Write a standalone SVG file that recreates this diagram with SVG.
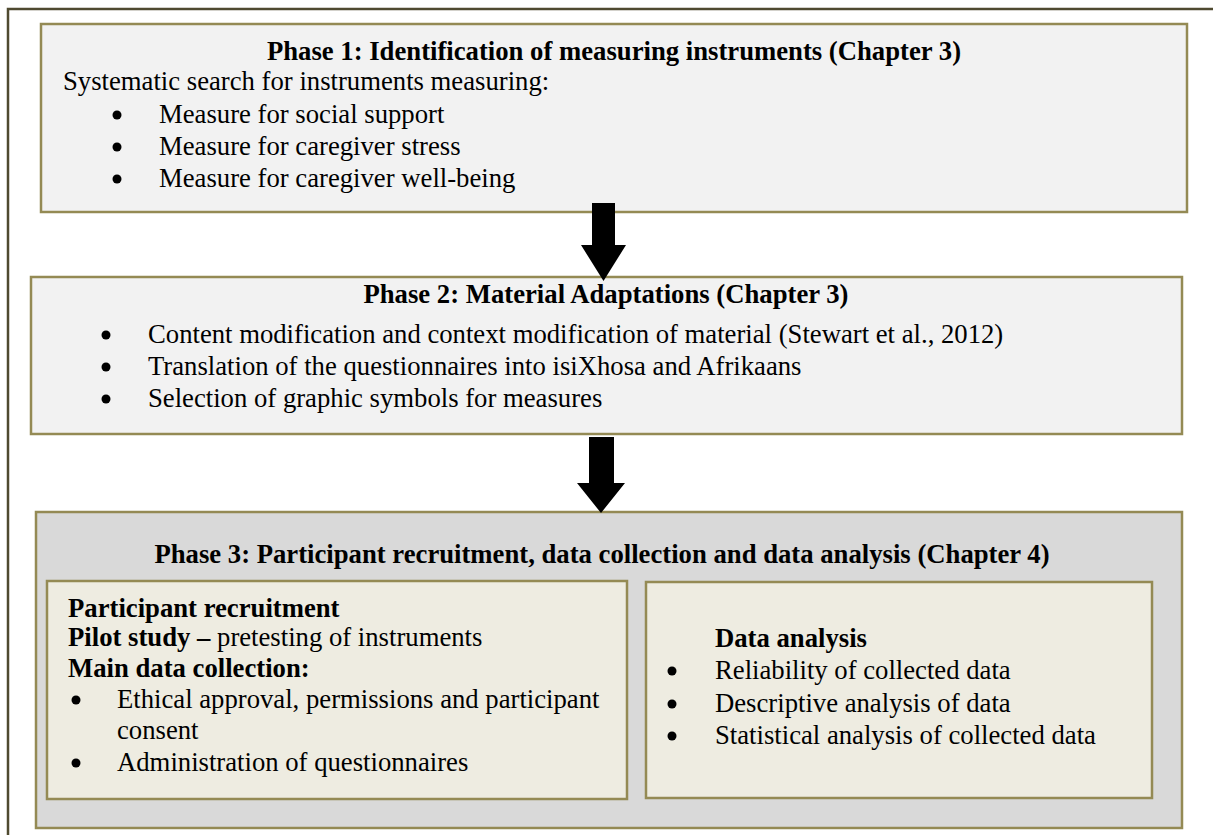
<svg xmlns="http://www.w3.org/2000/svg" width="1213" height="835" viewBox="0 0 1213 835">
<style>
  text { font-family: "Liberation Serif", "Times New Roman", serif; font-size: 26.7px; fill: #000; }
  .b { font-weight: bold; }
  .box { stroke: #948a54; stroke-width: 2.5; }
  .p12 { fill: #f2f2f2; }
  .p3 { fill: #d9d9d9; }
  .inner { fill: #eeece1; }
  .dot { fill: #000; }
  .arrow { fill: #000; }
</style>
<rect x="0" y="0" width="1213" height="835" fill="#fff"/>
<rect id="frame" x="8" y="9" width="1220" height="840" fill="none" stroke="#4f4a30" stroke-width="2.5"/>

<g id="phase1">
  <rect class="box p12" x="41" y="24" width="1146" height="188"/>
  <text class="b" x="614" y="60" text-anchor="middle">Phase 1: Identification of measuring instruments (Chapter 3)</text>
  <text x="63" y="90">Systematic search for instruments measuring:</text>
  <circle class="dot" cx="117" cy="115" r="4.5"/>
  <text x="159" y="123">Measure for social support</text>
  <circle class="dot" cx="117" cy="147" r="4.5"/>
  <text x="159" y="155">Measure for caregiver stress</text>
  <circle class="dot" cx="117" cy="179" r="4.5"/>
  <text x="159" y="187">Measure for caregiver well-being</text>
</g>

<g id="phase2">
  <rect class="box p12" x="31" y="277" width="1151" height="157"/>
  <text class="b" x="606" y="303" text-anchor="middle">Phase 2: Material Adaptations (Chapter 3)</text>
  <circle class="dot" cx="106" cy="335" r="4.5"/>
  <text x="148" y="343">Content modification and context modification of material (Stewart et al., 2012)</text>
  <circle class="dot" cx="106" cy="367" r="4.5"/>
  <text x="148" y="375">Translation of the questionnaires into isiXhosa and Afrikaans</text>
  <circle class="dot" cx="106" cy="399" r="4.5"/>
  <text x="148" y="407">Selection of graphic symbols for measures</text>
</g>

<g id="phase3">
  <rect class="box p3" x="36" y="512" width="1146" height="316"/>
  <text class="b" x="602" y="563" text-anchor="middle">Phase 3: Participant recruitment, data collection and data analysis (Chapter 4)</text>
</g>

<g id="recruitment">
  <rect class="box inner" x="47" y="581" width="580" height="218"/>
  <text class="b" x="68" y="617">Participant recruitment</text>
  <text x="68" y="646"><tspan class="b">Pilot study –</tspan> pretesting of instruments</text>
  <text class="b" x="68" y="677">Main data collection:</text>
  <circle class="dot" cx="76" cy="700" r="4.5"/>
  <text x="117" y="708">Ethical approval, permissions and participant</text>
  <text x="117" y="739">consent</text>
  <circle class="dot" cx="76" cy="763" r="4.5"/>
  <text x="117" y="771">Administration of questionnaires</text>
</g>

<g id="analysis">
  <rect class="box inner" x="646" y="582" width="506" height="216"/>
  <text class="b" x="715" y="647">Data analysis</text>
  <circle class="dot" cx="672" cy="671" r="4.5"/>
  <text x="715" y="679">Reliability of collected data</text>
  <circle class="dot" cx="672" cy="704" r="4.5"/>
  <text x="715" y="712">Descriptive analysis of data</text>
  <circle class="dot" cx="672" cy="736" r="4.5"/>
  <text x="715" y="744">Statistical analysis of collected data</text>
</g>

<g id="connectors">
  <polygon class="arrow" points="592,203 615,203 615,245 626,245 603.5,281 581,245 592,245"/>
  <polygon class="arrow" points="589,437 614,437 614,483 625,483 601,513 577,483 589,483"/>
</g>
</svg>
